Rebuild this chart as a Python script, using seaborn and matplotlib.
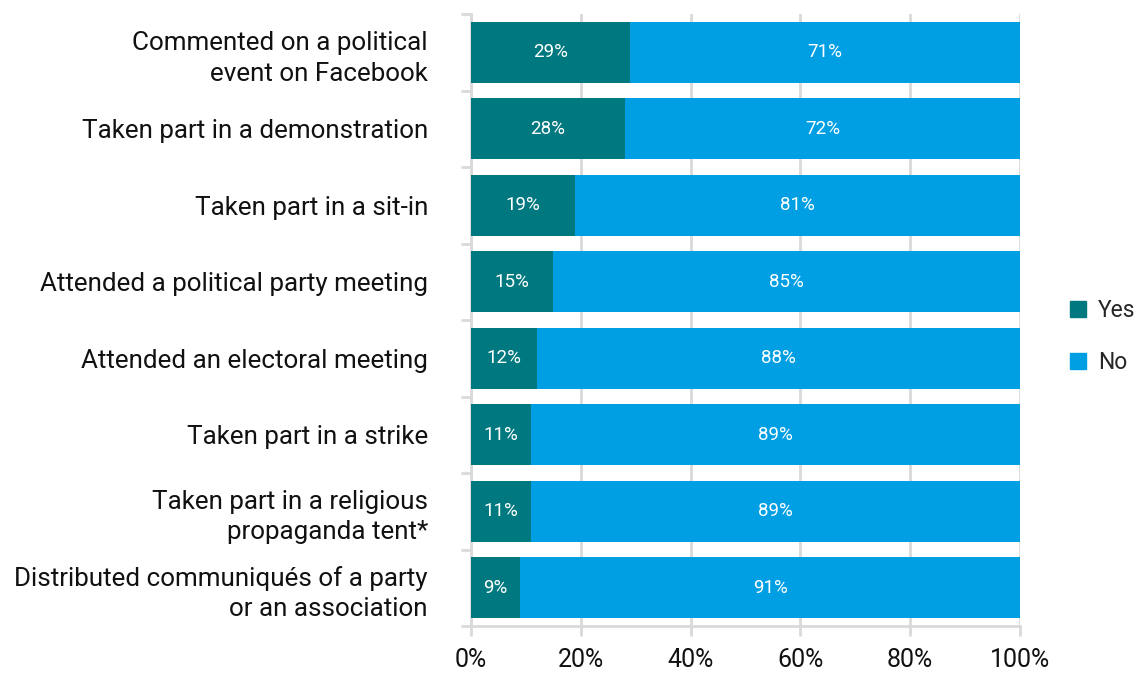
import matplotlib
matplotlib.use("Agg")
import matplotlib.pyplot as plt
import seaborn as sns
import pandas as pd
import numpy as np
from matplotlib.patches import Patch
from matplotlib.ticker import FixedLocator

activities = [
    "Commented on a political\nevent on Facebook",
    "Taken part in a demonstration",
    "Taken part in a sit-in",
    "Attended a political party meeting",
    "Attended an electoral meeting",
    "Taken part in a strike",
    "Taken part in a religious\npropaganda tent*",
    "Distributed communiqués of a party\nor an association",
]
yes_pct = [29, 28, 19, 15, 12, 11, 11, 9]
no_pct = [71, 72, 81, 85, 88, 89, 89, 91]
x_ticks = [0, 20, 40, 60, 80, 100]

YES_COLOR = "#00787F"
NO_COLOR = "#009FE3"
GRID_COLOR = "#d9d9d9"

sns.set_theme(style="white")
plt.rcParams["font.family"] = ["Roboto", "DejaVu Sans"]

df = pd.DataFrame({"activity": activities, "yes": yes_pct, "no": no_pct})
df["total"] = df["yes"] + df["no"]

fig = plt.figure(figsize=(11.39, 6.73), dpi=100)
ax = fig.add_axes([0.4135, 0.0698, 0.482, 0.9092])

# stacked bars: full bar in "No" colour, "Yes" segment drawn over it
sns.barplot(data=df, x="total", y="activity", color=NO_COLOR, width=0.8,
            saturation=1, ax=ax, orient="h", zorder=3, linewidth=0)
sns.barplot(data=df, x="yes", y="activity", color=YES_COLOR, width=0.8,
            saturation=1, ax=ax, orient="h", zorder=4, linewidth=0)

for i, (y, n) in enumerate(zip(yes_pct, no_pct)):
    ax.text(y / 2, i, f"{y}%", ha="center", va="center", color="white",
            fontsize=13.5, zorder=5)
    ax.text(y + n / 2, i, f"{n}%", ha="center", va="center", color="white",
            fontsize=13.5, zorder=5)

n = len(activities)
ax.set_xlim(0, 100)
ax.set_ylim(n - 0.5, -0.5)
ax.set_xticks(x_ticks)
ax.set_xticklabels([f"{t}%" for t in x_ticks], fontsize=18, color="#111111")
ax.xaxis.grid(True, color=GRID_COLOR, linewidth=2, zorder=0)
ax.set_axisbelow(True)

ax.set_yticks(range(n))
ax.set_yticklabels(activities, fontsize=18.7, color="#111111", ha="right",
                   linespacing=1.35)
ax.yaxis.set_minor_locator(FixedLocator(np.arange(-0.5, n, 1)))
ax.tick_params(axis="y", which="major", length=0, pad=31)
ax.tick_params(axis="y", which="minor", length=7, width=2, color=GRID_COLOR,
               left=True)
ax.tick_params(axis="x", which="major", length=7, width=2, color=GRID_COLOR,
               bottom=True, pad=9)
ax.set_xlabel("")
ax.set_ylabel("")

for side in ["top", "right"]:
    ax.spines[side].set_visible(False)
for side in ["left", "bottom"]:
    ax.spines[side].set_color(GRID_COLOR)
    ax.spines[side].set_linewidth(2)

handles = [Patch(color=YES_COLOR, label="Yes"), Patch(color=NO_COLOR, label="No")]
fig.legend(handles=handles, loc="center left", bbox_to_anchor=(0.939, 0.5),
           frameon=False, fontsize=16.5, handlelength=0.7, handleheight=0.7,
           handletextpad=0.55, labelspacing=1.25, borderaxespad=0,
           borderpad=0)

fig.savefig("out.png", dpi=100)
